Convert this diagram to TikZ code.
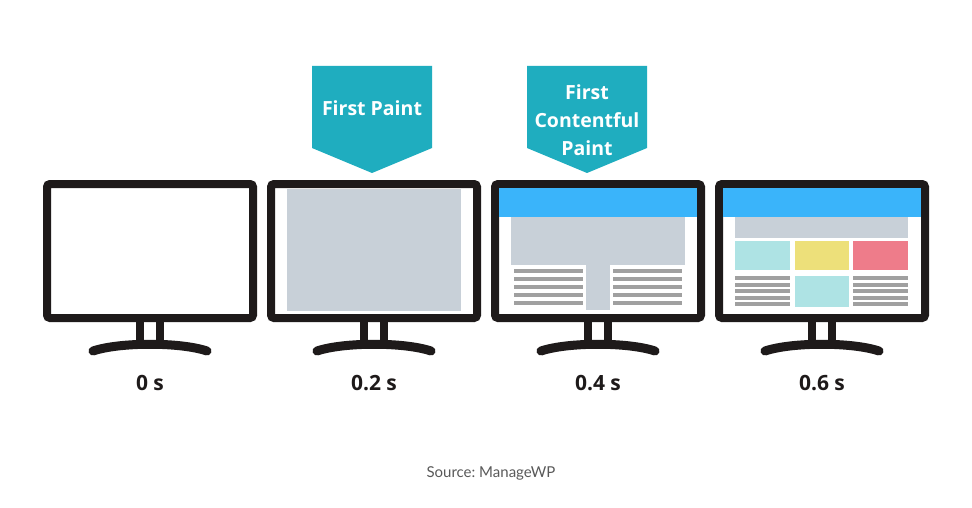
\documentclass[tikz,border=0pt]{standalone}
\usepackage{fontspec}
\setmainfont{Open Sans}
\newfontfamily\sourcefont{Lato}
\usetikzlibrary{positioning}
\frenchspacing
\definecolor{frameBlack}{RGB}{30,26,26}
\definecolor{bannerTeal}{RGB}{31,173,191}
\definecolor{headBlue}{RGB}{58,180,250}
\definecolor{pageGrey}{RGB}{200,208,216}
\definecolor{lineGrey}{RGB}{160,160,160}
\definecolor{boxCyan}{RGB}{174,227,228}
\definecolor{boxYellow}{RGB}{237,224,122}
\definecolor{boxPink}{RGB}{238,124,138}

\begin{document}
\begin{tikzpicture}[
    x=1pt, y=-1pt,
    frame/.style={
        draw=frameBlack,
        line width=8pt,
        rounded corners=3pt,
        fill=white
    },
    banner/.style={
        fill=bannerTeal
    },
    bannertext/.style={
        text=white,
        align=center,
        font=\fontsize{19.5}{28}\selectfont\bfseries
    },
    timelabel/.style={
        text=frameBlack,
        font=\fontsize{21}{24}\selectfont\bfseries
    },
    textline/.style={
        fill=lineGrey
    }
]
    \useasboundingbox[fill=white] (0,0) rectangle (972,508);

    % ---------------------------------------------------------
    % MONITORS: FRAME AND STAND
    % ---------------------------------------------------------
    \foreach \cx in {150,374,598,822} {
        \draw[frame] (\cx-103,184) rectangle (\cx+103,318);
        \fill[frameBlack] (\cx-14,318) rectangle (\cx-6,345);
        \fill[frameBlack] (\cx+6,318) rectangle (\cx+14,345);
        \draw[frameBlack, line width=9pt, line cap=round]
            (\cx-57,351) .. controls (\cx-30,342) and (\cx+30,342) .. (\cx+57,351);
    }

    % ---------------------------------------------------------
    % SCREEN 2: FIRST PAINT
    % ---------------------------------------------------------
    \fill[pageGrey] (287,189) rectangle (461,311);

    % ---------------------------------------------------------
    % SCREEN 3: FIRST CONTENTFUL PAINT
    % ---------------------------------------------------------
    \fill[headBlue] (499,188) rectangle (697,217);
    \fill[pageGrey] (511,217) rectangle (685,265);
    \fill[pageGrey] (586,265) rectangle (610,310);
    \foreach \ly in {269,277,285,293,301} {
        \fill[textline] (514,\ly) rectangle (583,\ly+4);
        \fill[textline] (613,\ly) rectangle (682,\ly+4);
    }

    % ---------------------------------------------------------
    % SCREEN 4: FULL PAGE
    % ---------------------------------------------------------
    \fill[headBlue] (723,188) rectangle (921,217);
    \fill[pageGrey] (735,217) rectangle (908,238);
    \fill[boxCyan] (735,241) rectangle (790,270);
    \fill[boxYellow] (795,241) rectangle (849,270);
    \fill[boxPink] (853,241) rectangle (908,270);
    \fill[boxCyan] (795,276) rectangle (849,307);
    \foreach \ly in {276,283,289,296,302} {
        \fill[textline] (735,\ly) rectangle (790,\ly+4);
        \fill[textline] (853,\ly) rectangle (908,\ly+4);
    }

    % ---------------------------------------------------------
    % BANNERS
    % ---------------------------------------------------------
    \fill[banner] (312,66) -- (432,66) -- (432,148) -- (372,173) -- (312,148) -- cycle;
    \fill[banner] (527,66) -- (647,66) -- (647,148) -- (587,173) -- (527,148) -- cycle;
    \node[bannertext] (fp) at (372,108) {First Paint};
    \node[bannertext] (fcp) at (587,120) {First\\Contentful\\Paint};

    % ---------------------------------------------------------
    % TIME LABELS
    % ---------------------------------------------------------
    \node[timelabel] (t0) at (150,383) {0 s};
    \node[timelabel] (t2) at (374,383) {0.2 s};
    \node[timelabel] (t4) at (598,383) {0.4 s};
    \node[timelabel] (t6) at (822,383) {0.6 s};

    % source
    \node[text=black!65, font=\sourcefont\fontsize{15}{18}\selectfont] (src) at (491,473) {Source: ManageWP};

\end{tikzpicture}
\end{document}
